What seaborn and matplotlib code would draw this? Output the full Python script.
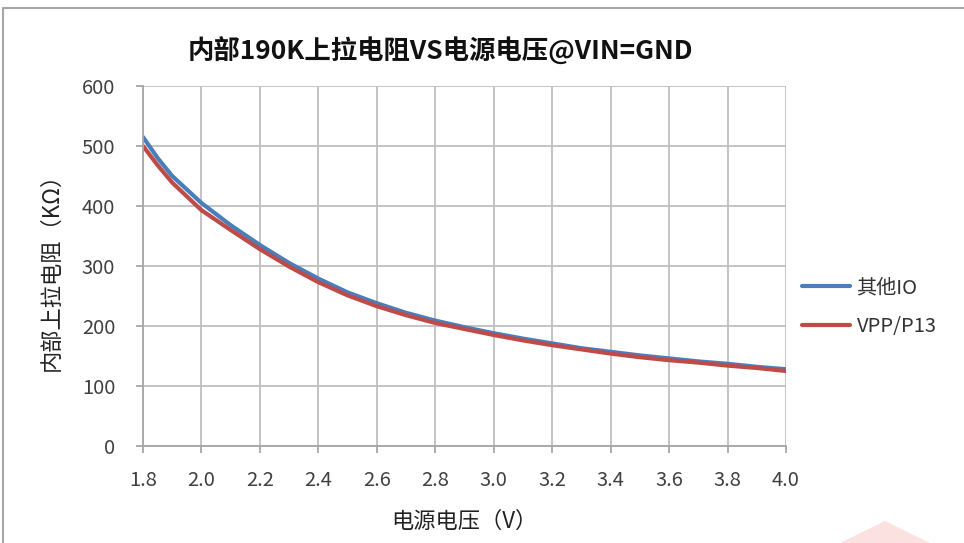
import matplotlib
matplotlib.use("Agg")
import matplotlib.pyplot as plt
import seaborn as sns
import pandas as pd
from matplotlib.patches import Polygon
from matplotlib.lines import Line2D

voltage = [1.8, 1.85, 1.9, 2.0, 2.1, 2.2, 2.3, 2.4, 2.5, 2.6, 2.7, 2.8, 2.9,
           3.0, 3.1, 3.2, 3.3, 3.4, 3.5, 3.6, 3.7, 3.8, 3.9, 4.0]
other_io = [515, 480, 450, 405, 368, 335, 305, 279, 256, 238, 222, 209, 198,
            188, 179, 171, 163, 157, 151, 146, 141, 137, 132, 128]
vpp_p13 = [500, 468, 439, 393, 360, 328, 299, 273, 251, 233, 218, 205, 195,
           185, 176, 168, 161, 154, 148, 143, 139, 134, 130, 125]
series_names = ["其他IO", "VPP/P13"]
x_ticks = [1.8, 2.0, 2.2, 2.4, 2.6, 2.8, 3.0, 3.2, 3.4, 3.6, 3.8, 4.0]
y_ticks = [0, 100, 200, 300, 400, 500, 600]

df = pd.concat([
    pd.DataFrame({"v": voltage, "r": other_io, "s": series_names[0]}),
    pd.DataFrame({"v": voltage, "r": vpp_p13, "s": series_names[1]}),
])

sns.set_theme(style="white")
plt.rcParams['font.family'] = ['Noto Sans CJK SC', 'DejaVu Sans']

fig = plt.figure(figsize=(9.64, 5.43), dpi=100)
fig.lines.append(Line2D([3/964, 3/964, 1.0], [0, 1 - 8/543, 1 - 8/543], transform=fig.transFigure,
                        color="#a6a6a6", lw=1.5))
fig.patches.append(Polygon([(840/964, 0), (885/964, 22/543), (930/964, 0)], closed=True,
                           transform=fig.transFigure, facecolor="#fbd5d5", edgecolor="none", alpha=0.7))
ax = fig.add_axes([143/964, 1 - 446/543, (786 - 143)/964, (446 - 86)/543])

sns.lineplot(data=df, x="v", y="r", hue="s", palette=["#4a7ebb", "#be4b48"],
             linewidth=3, ax=ax, legend=True)

ax.set_xlim(1.8, 4.0)
ax.set_ylim(0, 600)
ax.set_xticks(x_ticks)
ax.set_xticklabels([f"{t:.1f}" for t in x_ticks])
ax.set_yticks(y_ticks)
ax.grid(True, color="#bfbfbf", lw=1.3)
for s in ["top", "right"]:
    ax.spines[s].set_visible(False)
for s in ["left", "bottom"]:
    ax.spines[s].set_color("#a6a6a6")
    ax.spines[s].set_linewidth(1.3)
ax.tick_params(axis="both", labelsize=14.5, colors="#404040", length=5, direction="out",
               left=True, bottom=True, color="#a6a6a6", width=1.3)
ax.tick_params(axis="y", pad=15)
ax.tick_params(axis="x", pad=12)
ax.set_xlabel("电源电压（V）", fontsize=16, labelpad=14, color="#222222")
ax.set_ylabel("内部上拉电阻（KΩ）", fontsize=16, labelpad=14, color="#222222")
fig.text(440/964, 1 - 52/543, "内部190K上拉电阻VS电源电压@VIN=GND", ha="center", va="center",
         fontsize=19, fontweight="bold", style="italic", color="#111111")

leg = ax.legend(loc="center left", bbox_to_anchor=(1.0, 0.385), frameon=False,
                fontsize=14.5, handlelength=2.4, handletextpad=0.3, labelspacing=0.9,
                borderaxespad=0.4)
for t in leg.get_texts():
    t.set_color("#333333")

fig.savefig("out.png", dpi=100)
